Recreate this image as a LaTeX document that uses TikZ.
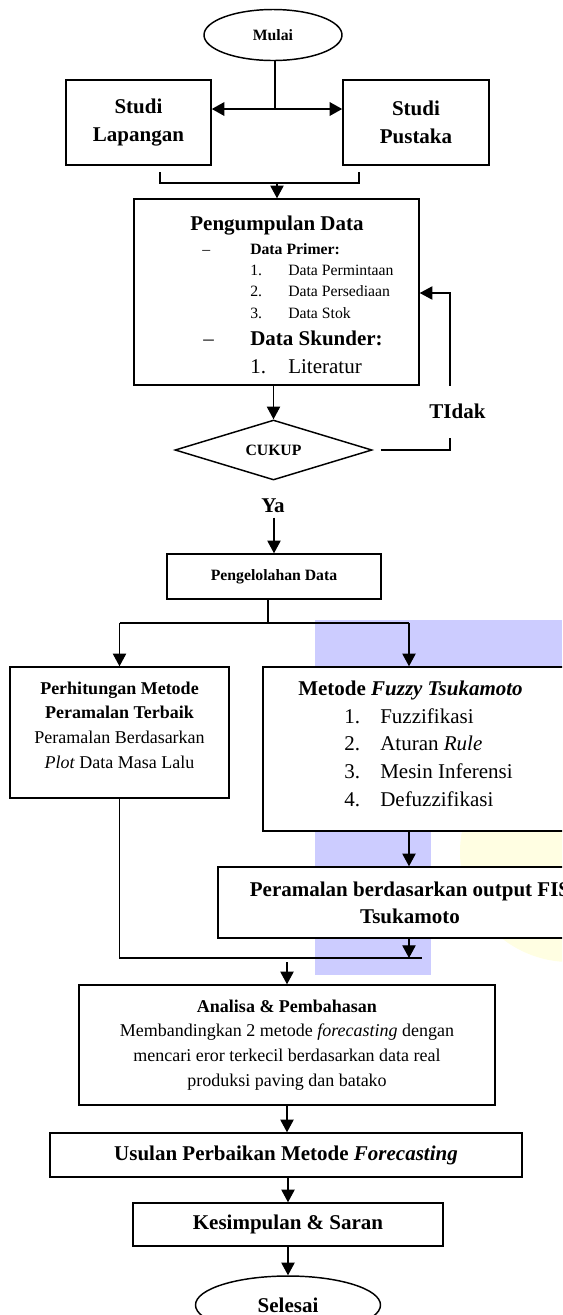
\documentclass[tikz,border=0pt]{standalone}
\usepackage{fontspec}
\setmainfont{Liberation Serif}
\usepackage{tikz}
\usetikzlibrary{shapes,arrows.meta,positioning,calc}
\definecolor{wmblue}{HTML}{CCCCFF}
\definecolor{wmyellow}{HTML}{FFFEE2}
\newcommand{\bigtxt}{\fontsize{15.75}{20.5}\selectfont}
\newcommand{\midtxt}{\fontsize{13.5}{18.5}\selectfont}
\newcommand{\smalltxt}{\fontsize{11.8}{16}\selectfont}
\tikzstyle{box} = [rectangle, draw, line width=1.1pt, fill=white, inner sep=0pt, align=center]
\tikzstyle{term} = [ellipse, draw, line width=1.1pt, fill=white, inner sep=0pt]
\tikzstyle{decision} = [diamond, draw, line width=1.1pt, fill=white, inner sep=0pt, aspect=3.3]
\tikzstyle{arrow} = [-{Triangle[length=9.5pt,width=10pt]}, line width=0.9pt]
\tikzstyle{link} = [line width=0.9pt]
\tikzstyle{txt} = [inner sep=0pt, anchor=base west]

\begin{document}
\begin{tikzpicture}[x=0.75pt, y=-0.75pt]
\useasboundingbox (0,0) rectangle (562,1315);
\clip (0,0) rectangle (562,1315);
% watermark behind the chart
\fill[wmyellow] (570,852) circle[radius=82.5pt];
\fill[wmblue] (315,620) rectangle (562,760);
\fill[wmblue] (315,620) rectangle (431,975);

\node[term, minimum width=103.5pt, minimum height=38.25pt, font=\smalltxt\bfseries] (mulai) at (273,35) {Mulai};
\node[box, minimum width=108.75pt, minimum height=63.75pt, font=\bigtxt\bfseries] (lap) at (138.5,122.5) {Studi\\Lapangan};
\node[box, minimum width=109.5pt, minimum height=63.75pt, font=\bigtxt\bfseries] (pus) at (416,122.5) {Studi\\Pustaka};

\node[box, minimum width=213.75pt, minimum height=139.5pt] (kumpul) at (276.5,292) {};
\node[txt, anchor=base, font=\bigtxt\bfseries] at (277,230) {Pengumpulan Data};
\node[txt, font=\smalltxt] at (202,254) {--};
\node[txt, font=\smalltxt\bfseries] at (250,254) {Data Primer:};
\node[txt, font=\smalltxt] at (250,275) {1.};
\node[txt, font=\smalltxt] at (288,275) {Data Permintaan};
\node[txt, font=\smalltxt] at (250,296) {2.};
\node[txt, font=\smalltxt] at (288,296) {Data Persediaan};
\node[txt, font=\smalltxt] at (250,318) {3.};
\node[txt, font=\smalltxt] at (288,318) {Data Stok};
\node[txt, font=\bigtxt] at (203,345) {--};
\node[txt, font=\bigtxt\bfseries] at (250,345) {Data Skunder:};
\node[txt, font=\bigtxt] at (250,373) {1.};
\node[txt, font=\bigtxt] at (288,373) {Literatur};

\node[decision, minimum width=147.75pt, minimum height=45pt, font=\smalltxt\bfseries] (cukup) at (273.5,450) {CUKUP};
\node[font=\bigtxt\bfseries] (ya) at (273,506) {Ya};
\node[box, minimum width=160.5pt, minimum height=33.75pt, font=\smalltxt\bfseries] (olah) at (274,576.5) {Pengelolahan Data};

\node[box, minimum width=164.25pt, minimum height=98.25pt] (hitung) at (119.5,732.5) {};
\node[font=\midtxt, align=center, inner sep=0pt] at (119.5,725) {\textbf{Perhitungan Metode}\\\textbf{Peramalan Terbaik}\\Peramalan Berdasarkan\\\textit{Plot} Data Masa Lalu};

\node[box, minimum width=254.25pt, minimum height=123pt] (fuzzy) at (432.5,749) {};
\node[txt, font=\bigtxt] at (298,695) {\textbf{Metode \textit{Fuzzy Tsukamoto}}};
\node[txt, font=\bigtxt] at (344,723) {1.};
\node[txt, font=\bigtxt] at (380,723) {Fuzzifikasi};
\node[txt, font=\bigtxt] at (344,750) {2.};
\node[txt, font=\bigtxt] at (380,750) {Aturan \textit{Rule}};
\node[txt, font=\bigtxt] at (344,778) {3.};
\node[txt, font=\bigtxt] at (380,778) {Mesin Inferensi};
\node[txt, font=\bigtxt] at (344,806) {4.};
\node[txt, font=\bigtxt] at (380,806) {Defuzzifikasi};

\node[box, minimum width=288pt, minimum height=53.25pt, font=\bigtxt\bfseries] (fis) at (410,902.5) {Peramalan berdasarkan output FIS\\Tsukamoto};
\node[box, minimum width=312pt, minimum height=90pt, font=\midtxt] (analisa) at (287,1045) {\textbf{Analisa \& Pembahasan}\\Membandingkan 2 metode \textit{forecasting} dengan\\mencari eror terkecil berdasarkan data real\\produksi paving dan batako};
\node[box, minimum width=354pt, minimum height=33pt, font=\bigtxt\bfseries] (usulan) at (286,1155) {Usulan Perbaikan Metode \textit{Forecasting}};
\node[box, minimum width=232.5pt, minimum height=32.25pt, font=\bigtxt\bfseries] (simpul) at (288,1224.5) {Kesimpulan \& Saran};
\node[term, minimum width=138.75pt, minimum height=43.5pt, font=\bigtxt\bfseries] (selesai) at (288,1305) {Selesai};

% connectors
\coordinate (split) at (275,109);
\draw[link] (split |- mulai.south) -- (split);
\draw[{Triangle[length=9.5pt,width=10pt]}-{Triangle[length=9.5pt,width=10pt]}, line width=1.8pt] (split -| lap.east) -- (split -| pus.west);
\coordinate (bl) at (160,172);
\coordinate (br) at (359,172);
\coordinate (join) at (277,183);
\draw[link] (bl) |- (join) -| (br);
\draw[arrow] (join) -- (join |- kumpul.north);
\draw[arrow] (kumpul.south -| cukup.north) -- (cukup.north);

\coordinate (fb) at (450,293);
\draw[arrow] ($(cukup.east)+(8,0)$) -| (fb) -- (fb -| kumpul.east);
\node[fill=white, font=\bigtxt\bfseries, minimum height=39pt, inner xsep=2pt] (tidak) at (457.5,411.5) {TIdak};

\draw[arrow] (olah.north |- ya.south) -- (olah.north);
\coordinate (bc) at (268,623);
\coordinate (rb) at (409,623);
\draw[link] (bc |- olah.south) -- (bc);
\draw[link] (hitung.north |- bc) -- (rb);
\draw[arrow] (hitung.north |- bc) -- (hitung.north);
\draw[arrow] (rb) -- (rb |- fuzzy.north);
\draw[arrow] (rb |- fuzzy.south) -- (rb |- fis.north);

\coordinate (mr) at (422,958);
\coordinate (mg) at (287,962);
\draw[link] (hitung.south) |- (mr);
\draw[arrow] (rb |- fis.south) -- (rb |- mr);
\draw[arrow] (mg) -- (mg |- analisa.north);
\draw[arrow] (analisa.south) -- (analisa.south |- usulan.north);
\draw[arrow] (simpul.north |- usulan.south) -- (simpul.north);
\draw[arrow] (simpul.south) -- (selesai.north);
\end{tikzpicture}
\end{document}
